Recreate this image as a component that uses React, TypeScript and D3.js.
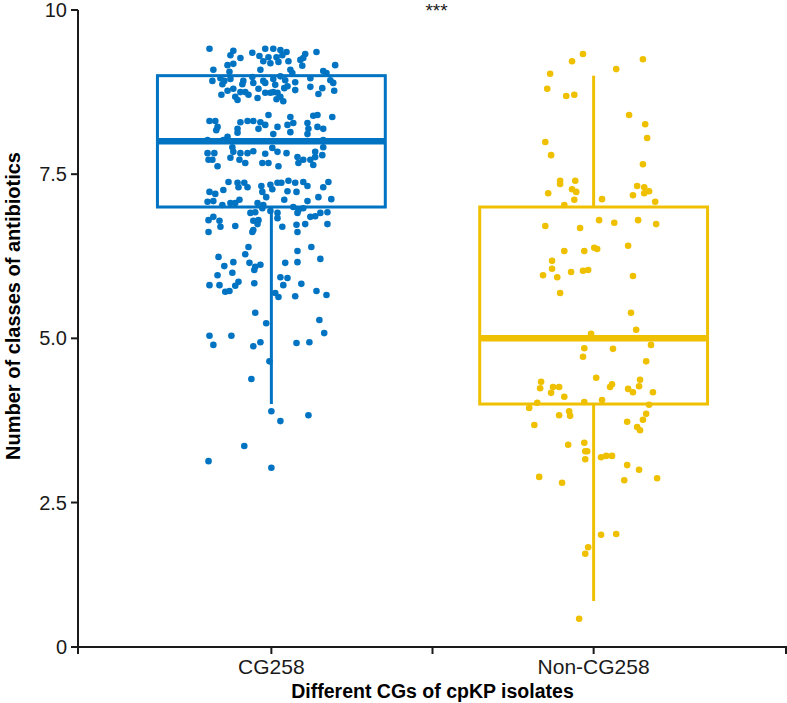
import React from "react";
import * as d3 from "d3";

const categories = ["CG258", "Non-CG258"];
const colors = ["#0073C2", "#EFC000"];
const q1 = [7, 4];
const medians = [8, 5];
const q3 = [9, 7];
const whiskerLow = [4, 1];
const whiskerHigh = [9, 9];
const yTicks = [0, 2.5, 5, 7.5, 10];
const yTickLabels = ["0", "2.5", "5.0", "7.5", "10"];
const xTicks = [1, 1.5, 2, 2.6];
const yTitle = "Number of classes of antibiotics";
const xTitle = "Different CGs of cpKP isolates";
const signif = "***";

// [jitter offset in category units, number of classes (jittered)]
const cg258Points: [number, number][] = [
  [-0.192, 9.41], [-0.118, 9.38], [-0.059, 9.35], [-0.019, 9.41], [0.006, 9.41], [0.028, 9.39], [0.047, 9.36], [0.105, 9.33], [0.14, 9.36],
  [-0.127, 9.31], [-0.096, 9.27], [-0.037, 9.3], [-0.009, 9.28], [0.016, 9.28], [0.034, 9.31], [0.099, 9.27], [0.09, 9.24],
  [-0.136, 9.16], [-0.118, 9.18], [-0.025, 9.22], [-0.003, 9.19], [0.022, 9.21], [0.053, 9.22], [0.096, 9.15], [0.198, 9.16],
  [-0.18, 9.09], [-0.13, 9.06], [-0.034, 9.09], [0.059, 9.09], [0.065, 9.04], [0.161, 9.07],
  [-0.183, 8.92], [-0.158, 8.96], [-0.146, 8.92], [-0.127, 8.95], [-0.087, 8.92], [-0.059, 8.98], [-0.025, 8.92], [0.006, 8.95],
  [0.028, 8.99], [0.043, 8.93], [0.074, 8.9], [0.121, 8.96], [0.171, 9.04], [0.183, 8.93], [0.192, 8.89],
  [-0.152, 8.87], [-0.09, 8.87], [-0.056, 8.89], [-0.019, 8.89], [0.012, 8.86], [0.05, 8.84],
  [-0.118, 8.8], [-0.096, 8.75], [-0.081, 8.75], [-0.136, 8.77], [-0.04, 8.8], [0.006, 8.75], [0.04, 8.81], [0.074, 8.78],
  [0.121, 8.83], [0.158, 8.81], [0.195, 8.77], [0.146, 8.72],
  [-0.155, 8.71], [-0.112, 8.68], [-0.105, 8.63], [-0.071, 8.71], [-0.043, 8.66], [-0.019, 8.74], [-0.003, 8.74], [0.019, 8.74],
  [0.028, 8.68], [0.016, 8.64], [0.037, 8.61],
  [-0.009, 8.4], [-0.192, 8.31], [-0.174, 8.31], [-0.096, 8.29], [-0.074, 8.31], [-0.056, 8.31], [-0.034, 8.29], [-0.019, 8.25],
  [0.059, 8.37], [0.13, 8.39], [0.143, 8.4], [0.189, 8.37],
  [-0.167, 8.22], [-0.171, 8.17], [-0.105, 8.19], [-0.04, 8.19], [0.019, 8.22], [0.05, 8.25], [0.068, 8.28], [0.112, 8.28],
  [0.115, 8.19], [0.143, 8.22], [0.161, 8.19],
  [-0.136, 8.07], [-0.105, 8.13], [0.006, 8.11], [0.059, 8.14], [0.112, 8.11], [0.161, 8.02], [-0.198, 8.02], [-0.149, 8.02],
  [-0.121, 7.91], [0.003, 7.9], [0.161, 7.91],
  [-0.198, 7.82], [-0.177, 7.82], [-0.118, 7.84], [-0.096, 7.82], [-0.074, 7.82], [-0.056, 7.85], [-0.019, 7.81], [0.019, 7.84],
  [0.047, 7.82], [0.081, 7.76], [0.099, 7.72], [0.121, 7.72], [0.136, 7.76], [0.158, 7.79], [0.136, 7.84],
  [-0.195, 7.72], [-0.183, 7.72], [-0.167, 7.62], [-0.127, 7.75], [-0.099, 7.72], [-0.081, 7.67], [-0.028, 7.67], [-0.009, 7.67],
  [0.022, 7.62], [0.084, 7.67], [0.13, 7.64],
  [-0.133, 7.38], [-0.105, 7.37], [-0.084, 7.37], [-0.102, 7.3], [-0.074, 7.3], [-0.031, 7.32], [-0.003, 7.34], [0.019, 7.37],
  [0.031, 7.37], [0.053, 7.4], [0.074, 7.37], [0.099, 7.38], [0.112, 7.32], [0.177, 7.38], [0.161, 7.3],
  [-0.149, 7.26], [-0.192, 7.23], [-0.174, 7.2], [-0.028, 7.23], [-0.016, 7.15], [0.003, 7.27], [0.05, 7.24], [0.078, 7.23],
  [0.146, 7.15], [0.112, 7.09], [0.04, 7.11], [0.186, 7.12],
  [-0.198, 7.08], [-0.18, 7.09], [-0.152, 7.03], [-0.127, 7.06], [-0.112, 7.06], [-0.099, 7.11], [-0.043, 7.06], [-0.025, 7.03],
  [-0.028, 6.98], [-0.003, 6.94], [0.019, 6.91], [0.068, 7.0], [0.084, 6.95], [0.099, 6.98], [0.081, 6.91], [0.152, 6.91],
  [0.174, 6.92], [-0.05, 6.92], [-0.065, 6.91],
  [-0.195, 6.8], [-0.18, 6.85], [-0.161, 6.79], [-0.158, 6.7], [-0.112, 6.71], [-0.056, 6.79], [-0.04, 6.8], [-0.043, 6.74],
  [-0.056, 6.65], [0.019, 6.83], [0.034, 6.7], [0.078, 6.73], [0.105, 6.74], [0.121, 6.85], [0.136, 6.86], [0.174, 6.74],
  [0.081, 6.62], [-0.195, 6.62], [-0.059, 6.62],
  [-0.071, 6.39], [-0.081, 6.28], [-0.164, 6.24], [-0.118, 6.16], [-0.146, 6.1], [-0.068, 6.15], [-0.034, 6.12], [-0.05, 6.09],
  [0.081, 6.33], [0.124, 6.39], [0.081, 6.16], [0.152, 6.21], [0.043, 6.15],
  [-0.167, 5.96], [-0.121, 6.0], [-0.053, 6.04], [-0.192, 5.81], [-0.161, 5.81], [-0.143, 5.71], [-0.13, 5.72], [-0.112, 5.8],
  [-0.102, 5.86], [-0.053, 5.84], [0.028, 5.93], [0.05, 5.92], [0.037, 5.81], [0.012, 5.69], [0.022, 5.63], [0.093, 5.83],
  [0.074, 5.64], [0.14, 5.72], [0.171, 5.66],
  [-0.05, 5.39], [-0.016, 5.23], [0.149, 5.28], [0.164, 5.08], [-0.192, 5.04], [-0.18, 4.9], [-0.124, 5.04], [-0.056, 4.88],
  [-0.034, 4.94], [0.078, 4.93], [0.118, 4.94], [-0.006, 4.65], [-0.062, 4.38],
  [0.0, 3.89], [0.028, 3.74], [0.115, 3.83], [-0.084, 3.36], [-0.195, 3.13], [0.0, 3.03],
];

const nonCg258Points: [number, number][] = [
  [-0.033, 9.33], [-0.067, 9.22], [0.153, 9.25], [-0.135, 9.03], [0.07, 9.1], [-0.144, 8.8], [-0.085, 8.69], [-0.06, 8.71],
  [0.11, 8.4], [0.16, 8.26], [0.166, 8.05], [-0.15, 7.99], [-0.132, 7.79], [0.153, 7.65],
  [-0.104, 7.4], [-0.104, 7.35], [-0.057, 7.4], [-0.067, 7.27], [-0.054, 7.23], [-0.141, 7.21], [-0.06, 7.11], [0.026, 7.12],
  [0.135, 7.32], [0.157, 7.3], [0.157, 7.21], [0.172, 7.24], [0.122, 7.18], [0.191, 7.08], [-0.091, 7.03],
  [-0.15, 6.71], [-0.042, 6.68], [0.017, 6.8], [0.064, 6.76], [0.138, 6.8], [0.194, 6.74],
  [-0.091, 6.33], [-0.029, 6.33], [0.002, 6.38], [0.011, 6.36], [0.107, 6.41], [-0.129, 6.18], [-0.129, 6.06], [-0.157, 5.96],
  [-0.113, 5.93], [-0.07, 6.01], [-0.033, 6.03], [-0.017, 6.04], [0.122, 5.95], [-0.104, 5.69], [0.116, 5.39], [0.132, 5.13],
  [-0.008, 5.07], [-0.029, 4.85], [-0.033, 4.72], [0.06, 4.84], [0.178, 4.9], [0.163, 4.65],
  [0.008, 4.4], [0.144, 4.37], [-0.163, 4.34], [-0.166, 4.24], [-0.126, 4.26], [-0.107, 4.26], [-0.132, 4.17], [-0.091, 4.11],
  [0.057, 4.3], [0.051, 4.26], [0.107, 4.23], [0.122, 4.18], [0.141, 4.27], [0.184, 4.18],
  [-0.175, 4.02], [-0.2, 3.94], [-0.029, 4.03], [0.026, 4.06], [0.172, 3.99], [-0.107, 3.83], [-0.076, 3.89], [-0.073, 3.82],
  [-0.184, 3.68], [0.104, 3.73], [0.163, 3.85], [0.153, 3.76], [0.135, 3.65], [0.144, 3.6],
  [-0.079, 3.38], [-0.029, 3.41], [-0.026, 3.28], [-0.02, 3.28], [-0.026, 3.16], [0.023, 3.19], [0.039, 3.21], [0.057, 3.21],
  [0.104, 3.07], [0.141, 3.0], [-0.169, 2.89], [-0.098, 2.8], [0.095, 2.84], [0.197, 2.87],
  [0.023, 2.01], [0.07, 2.02], [-0.017, 1.82], [-0.026, 1.72], [-0.045, 0.73],
];

const pointSets = [cg258Points, nonCg258Points];

const FONT = "'Liberation Sans', Arial, Helvetica, sans-serif";

export default function App() {
  const width = 787;
  const height = 703;
  const x = d3.scaleLinear().domain([0.4, 2.6]).range([78, 787]);
  const y = d3.scaleLinear().domain([0.3, 10]).range([647, 10]).clamp(true);
  const boxHalf = 0.3535;
  const axisColor = "#1a1a1a";

  return (
    <svg
      width={width}
      height={height}
      style={{ position: "absolute", left: 0, top: 0, background: "#fff" }}
      fontFamily={FONT}
    >
      <rect x={0} y={0} width={width} height={height} fill="#fff" />
      {/* jittered points */}
      {pointSets.map((pts, i) => (
        <g key={"p" + i} fill={colors[i]}>
          {pts.map(([dx, v], j) => (
            <circle key={j} cx={x(i + 1 + dx)} cy={y(v)} r={3.3} />
          ))}
        </g>
      ))}
      {/* boxes */}
      {categories.map((c, i) => {
        const cx = x(i + 1);
        const x0 = x(i + 1 - boxHalf);
        const x1 = x(i + 1 + boxHalf);
        return (
          <g key={"b" + c} stroke={colors[i]} fill="none">
            {whiskerHigh[i] > q3[i] && (
              <line x1={cx} x2={cx} y1={y(q3[i])} y2={y(whiskerHigh[i])} strokeWidth={3} />
            )}
            {whiskerLow[i] < q1[i] && (
              <line x1={cx} x2={cx} y1={y(q1[i])} y2={y(whiskerLow[i])} strokeWidth={3} />
            )}
            <rect x={x0} y={y(q3[i])} width={x1 - x0} height={y(q1[i]) - y(q3[i])} strokeWidth={3} />
            <line x1={x0} x2={x1} y1={y(medians[i])} y2={y(medians[i])} strokeWidth={6.5} />
          </g>
        );
      })}
      {/* y axis */}
      <line x1={78} x2={78} y1={y(10)} y2={654} stroke={axisColor} strokeWidth={2} />
      {yTicks.map((t, i) => (
        <g key={"yt" + t}>
          <line x1={71} x2={78} y1={y(t)} y2={y(t)} stroke={axisColor} strokeWidth={2} />
          <text x={67} y={y(t)} textAnchor="end" dominantBaseline="central" fontSize={20} fill="#1a1a1a">
            {yTickLabels[i]}
          </text>
        </g>
      ))}
      {/* x axis */}
      <line x1={78} x2={787} y1={647} y2={647} stroke={axisColor} strokeWidth={2} />
      {xTicks.map((t) => (
        <line key={"xt" + t} x1={Math.min(x(t), 786)} x2={Math.min(x(t), 786)} y1={647} y2={654} stroke={axisColor} strokeWidth={2} />
      ))}
      {categories.map((c, i) => (
        <text key={"xl" + c} x={x(i + 1)} y={674} textAnchor="middle" fontSize={21} fill="#1a1a1a">
          {c}
        </text>
      ))}
      <text x={x(1.5)} y={698} textAnchor="middle" fontSize={19.5} fontWeight="bold" fill="#000">
        {xTitle}
      </text>
      <text
        transform={`translate(20, 306) rotate(-90)`}
        textAnchor="middle"
        fontSize={20}
        fontWeight="bold"
        fill="#000"
      >
        {yTitle}
      </text>
      <text x={x(1.5) + 4} y={17} textAnchor="middle" fontSize={19} fill="#1a1a1a">
        {signif}
      </text>
    </svg>
  );
}
